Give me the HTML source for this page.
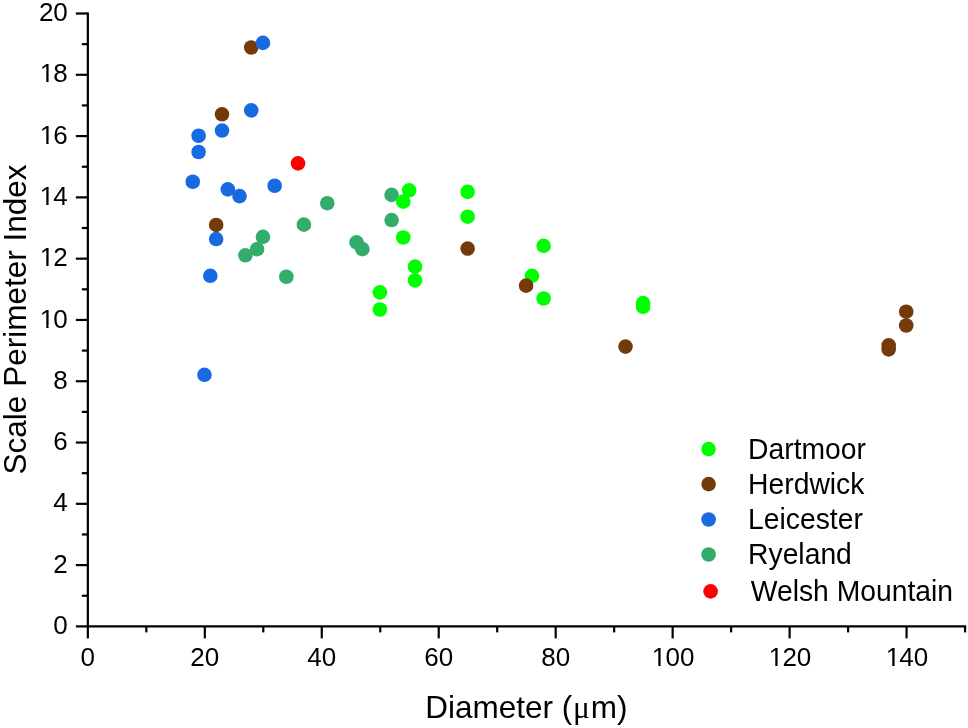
<!DOCTYPE html>
<html><head><meta charset="utf-8"><style>
html,body{margin:0;padding:0;background:#fff;overflow:hidden;}
svg{display:block;}
text{font-family:"Liberation Sans",Arial,sans-serif;fill:#000;}
</style></head><body>
<svg width="968" height="728" viewBox="0 0 968 728">
<rect width="968" height="728" fill="#fff"/>
<g stroke="#000" stroke-width="2.2" stroke-linecap="butt">
<line x1="87.85" y1="12.40" x2="87.85" y2="626.40"/>
<line x1="86.75" y1="626.40" x2="966.15" y2="626.40"/>
<line x1="75.85" y1="626.40" x2="87.85" y2="626.40"/>
<line x1="81.85" y1="595.75" x2="87.85" y2="595.75"/>
<line x1="75.85" y1="565.11" x2="87.85" y2="565.11"/>
<line x1="81.85" y1="534.46" x2="87.85" y2="534.46"/>
<line x1="75.85" y1="503.82" x2="87.85" y2="503.82"/>
<line x1="81.85" y1="473.17" x2="87.85" y2="473.17"/>
<line x1="75.85" y1="442.53" x2="87.85" y2="442.53"/>
<line x1="81.85" y1="411.88" x2="87.85" y2="411.88"/>
<line x1="75.85" y1="381.24" x2="87.85" y2="381.24"/>
<line x1="81.85" y1="350.59" x2="87.85" y2="350.59"/>
<line x1="75.85" y1="319.95" x2="87.85" y2="319.95"/>
<line x1="81.85" y1="289.31" x2="87.85" y2="289.31"/>
<line x1="75.85" y1="258.66" x2="87.85" y2="258.66"/>
<line x1="81.85" y1="228.01" x2="87.85" y2="228.01"/>
<line x1="75.85" y1="197.37" x2="87.85" y2="197.37"/>
<line x1="81.85" y1="166.72" x2="87.85" y2="166.72"/>
<line x1="75.85" y1="136.08" x2="87.85" y2="136.08"/>
<line x1="81.85" y1="105.43" x2="87.85" y2="105.43"/>
<line x1="75.85" y1="74.79" x2="87.85" y2="74.79"/>
<line x1="81.85" y1="44.14" x2="87.85" y2="44.14"/>
<line x1="75.85" y1="13.50" x2="87.85" y2="13.50"/>
<line x1="87.85" y1="626.40" x2="87.85" y2="638.40"/>
<line x1="146.33" y1="626.40" x2="146.33" y2="632.40"/>
<line x1="204.81" y1="626.40" x2="204.81" y2="638.40"/>
<line x1="263.29" y1="626.40" x2="263.29" y2="632.40"/>
<line x1="321.77" y1="626.40" x2="321.77" y2="638.40"/>
<line x1="380.25" y1="626.40" x2="380.25" y2="632.40"/>
<line x1="438.73" y1="626.40" x2="438.73" y2="638.40"/>
<line x1="497.21" y1="626.40" x2="497.21" y2="632.40"/>
<line x1="555.69" y1="626.40" x2="555.69" y2="638.40"/>
<line x1="614.17" y1="626.40" x2="614.17" y2="632.40"/>
<line x1="672.65" y1="626.40" x2="672.65" y2="638.40"/>
<line x1="731.13" y1="626.40" x2="731.13" y2="632.40"/>
<line x1="789.61" y1="626.40" x2="789.61" y2="638.40"/>
<line x1="848.09" y1="626.40" x2="848.09" y2="632.40"/>
<line x1="906.57" y1="626.40" x2="906.57" y2="638.40"/>
<line x1="965.05" y1="626.40" x2="965.05" y2="632.40"/>
</g>
<g font-size="26">
<text x="53.34" y="634.00">0</text>
<text x="53.34" y="572.71">2</text>
<text x="53.34" y="511.42">4</text>
<text x="53.34" y="450.13">6</text>
<text x="53.34" y="388.84">8</text>
<text x="39.73 53.34" y="327.55">10</text>
<text x="39.73 53.34" y="266.26">12</text>
<text x="39.73 53.34" y="204.97">14</text>
<text x="39.73 53.34" y="143.68">16</text>
<text x="39.73 53.34" y="82.39">18</text>
<text x="38.88 53.34" y="21.10">20</text>
</g>
<g font-size="26">
<text x="80.62" y="666.40">0</text>
<text x="190.35 204.81" y="666.40">20</text>
<text x="307.31 321.77" y="666.40">40</text>
<text x="424.27 438.73" y="666.40">60</text>
<text x="541.23 555.69" y="666.40">80</text>
<text x="651.81 665.42 679.88" y="666.40">100</text>
<text x="768.77 782.38 796.84" y="666.40">120</text>
<text x="885.73 899.34 913.80" y="666.40">140</text>
</g>
<g fill="#fff">
<rect x="39.63" y="325.01" width="6.63" height="3.34"/>
<rect x="48.57" y="325.01" width="4.73" height="3.34"/>
<rect x="39.63" y="263.72" width="6.63" height="3.34"/>
<rect x="48.57" y="263.72" width="4.73" height="3.34"/>
<rect x="39.63" y="202.43" width="6.63" height="3.34"/>
<rect x="48.57" y="202.43" width="4.73" height="3.34"/>
<rect x="39.63" y="141.14" width="6.63" height="3.34"/>
<rect x="48.57" y="141.14" width="4.73" height="3.34"/>
<rect x="39.63" y="79.85" width="6.63" height="3.34"/>
<rect x="48.57" y="79.85" width="4.73" height="3.34"/>
<rect x="651.71" y="663.86" width="6.63" height="3.34"/>
<rect x="660.65" y="663.86" width="4.73" height="3.34"/>
<rect x="768.67" y="663.86" width="6.63" height="3.34"/>
<rect x="777.61" y="663.86" width="4.73" height="3.34"/>
<rect x="885.63" y="663.86" width="6.63" height="3.34"/>
<rect x="894.57" y="663.86" width="4.73" height="3.34"/>
</g>
<text font-size="31.5" x="425.32" y="717.6">Diameter (<tspan dx="0.7" font-family="Liberation Serif, serif">μ</tspan><tspan dx="0.9">m)</tspan></text>
<text font-size="31.5" transform="translate(25.8,473) rotate(-90)" x="-1.43" y="0">Scale Perimeter Index</text>
<g>
<circle cx="245.40" cy="255.29" r="7.3" fill="#32ad6b"/>
<circle cx="257.09" cy="249.16" r="7.3" fill="#32ad6b"/>
<circle cx="262.94" cy="236.90" r="7.3" fill="#32ad6b"/>
<circle cx="286.33" cy="276.74" r="7.3" fill="#32ad6b"/>
<circle cx="303.88" cy="224.64" r="7.3" fill="#32ad6b"/>
<circle cx="327.27" cy="203.19" r="7.3" fill="#32ad6b"/>
<circle cx="356.51" cy="242.42" r="7.3" fill="#32ad6b"/>
<circle cx="362.36" cy="249.16" r="7.3" fill="#32ad6b"/>
<circle cx="391.60" cy="194.92" r="7.3" fill="#32ad6b"/>
<circle cx="391.60" cy="220.05" r="7.3" fill="#32ad6b"/>
<circle cx="379.90" cy="292.37" r="7.3" fill="#00ff00"/>
<circle cx="379.90" cy="309.53" r="7.3" fill="#00ff00"/>
<circle cx="403.29" cy="201.66" r="7.3" fill="#00ff00"/>
<circle cx="403.29" cy="237.51" r="7.3" fill="#00ff00"/>
<circle cx="409.14" cy="190.32" r="7.3" fill="#00ff00"/>
<circle cx="414.99" cy="266.63" r="7.3" fill="#00ff00"/>
<circle cx="414.99" cy="280.42" r="7.3" fill="#00ff00"/>
<circle cx="467.62" cy="191.85" r="7.3" fill="#00ff00"/>
<circle cx="467.62" cy="216.68" r="7.3" fill="#00ff00"/>
<circle cx="531.95" cy="275.82" r="7.3" fill="#00ff00"/>
<circle cx="543.64" cy="245.79" r="7.3" fill="#00ff00"/>
<circle cx="543.64" cy="298.50" r="7.3" fill="#00ff00"/>
<circle cx="643.06" cy="303.10" r="7.3" fill="#00ff00"/>
<circle cx="643.06" cy="306.77" r="7.3" fill="#00ff00"/>
<circle cx="216.16" cy="224.95" r="7.3" fill="#753a0a"/>
<circle cx="222.00" cy="114.32" r="7.3" fill="#753a0a"/>
<circle cx="251.24" cy="47.52" r="7.3" fill="#753a0a"/>
<circle cx="467.62" cy="248.55" r="7.3" fill="#753a0a"/>
<circle cx="526.10" cy="285.63" r="7.3" fill="#753a0a"/>
<circle cx="625.52" cy="346.61" r="7.3" fill="#753a0a"/>
<circle cx="888.68" cy="345.39" r="7.3" fill="#753a0a"/>
<circle cx="888.68" cy="349.37" r="7.3" fill="#753a0a"/>
<circle cx="906.22" cy="311.68" r="7.3" fill="#753a0a"/>
<circle cx="906.22" cy="325.47" r="7.3" fill="#753a0a"/>
<circle cx="192.76" cy="181.74" r="7.3" fill="#176ae0"/>
<circle cx="198.61" cy="135.77" r="7.3" fill="#176ae0"/>
<circle cx="198.61" cy="152.02" r="7.3" fill="#176ae0"/>
<circle cx="204.46" cy="374.80" r="7.3" fill="#176ae0"/>
<circle cx="210.31" cy="275.82" r="7.3" fill="#176ae0"/>
<circle cx="216.16" cy="239.05" r="7.3" fill="#176ae0"/>
<circle cx="222.00" cy="130.56" r="7.3" fill="#176ae0"/>
<circle cx="227.85" cy="189.40" r="7.3" fill="#176ae0"/>
<circle cx="239.55" cy="196.14" r="7.3" fill="#176ae0"/>
<circle cx="251.24" cy="110.34" r="7.3" fill="#176ae0"/>
<circle cx="262.94" cy="42.92" r="7.3" fill="#176ae0"/>
<circle cx="274.64" cy="185.72" r="7.3" fill="#176ae0"/>
<circle cx="298.03" cy="163.35" r="7.3" fill="#ff0000"/>
</g>
<g>
<circle cx="708.6" cy="449.1" r="7.3" fill="#00ff00"/>
<circle cx="708.6" cy="484.1" r="7.3" fill="#753a0a"/>
<circle cx="708.6" cy="519.5" r="7.3" fill="#176ae0"/>
<circle cx="708.6" cy="554.5" r="7.3" fill="#32ad6b"/>
<circle cx="710.6" cy="591.4" r="7.3" fill="#ff0000"/>
</g>
<g font-size="28.3">
<text transform="translate(748.08,458.8) scale(1,1.035)">Dartmoor</text>
<text transform="translate(748.08,493.7) scale(1,1.035)">Herdwick</text>
<text transform="translate(748.08,528.6) scale(1,1.035)">Leicester</text>
<text transform="translate(748.08,563.6) scale(1,1.035)">Ryeland</text>
<text transform="translate(750.78,600.8) scale(1,1.035)">Welsh Mountain</text>
</g>
</svg>
</body></html>
